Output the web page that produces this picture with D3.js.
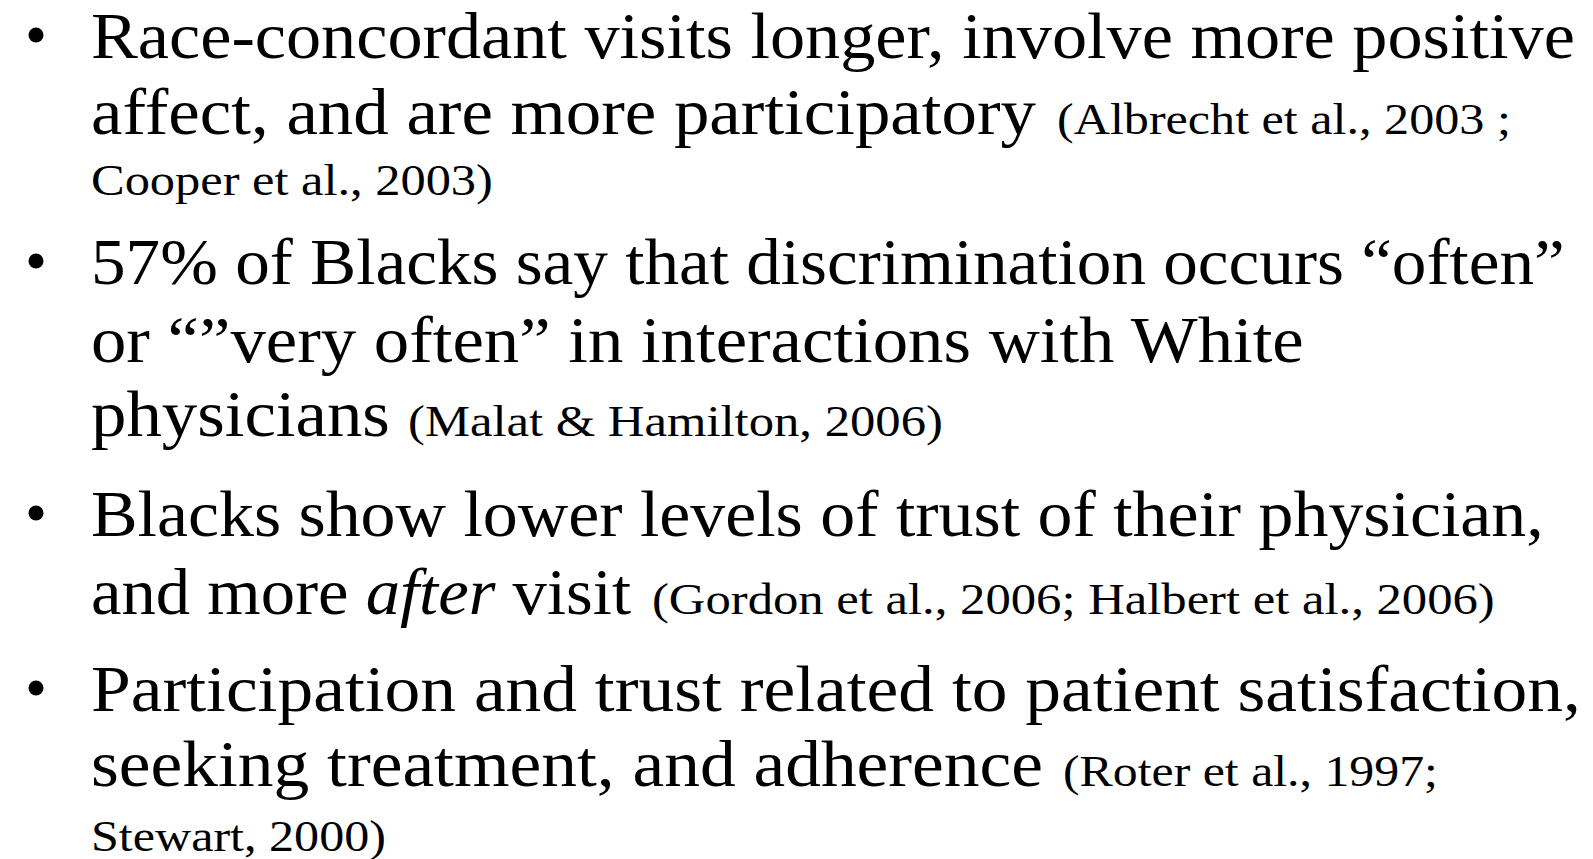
<!DOCTYPE html>
<html>
<head>
<meta charset="utf-8">
<script src="https://cdn.jsdelivr.net/npm/d3@7"></script>
<style>
  html, body { margin: 0; padding: 0; background: #ffffff; }
  svg { display: block; }
  text { font-family: "Liberation Serif", "Times New Roman", serif; fill: #000; white-space: pre; }
</style>
</head>
<body>
<svg id="chart" width="1593" height="859"></svg>
<script>
// ---- content ----
const bulletLines = [0, 3, 6, 8];
const mainTexts = [
  [{t: "Race-concordant visits longer, involve more positive"}],
  [{t: "affect, and are more participatory"}],
  [],
  [{t: "57% of Blacks say that discrimination occurs \u201coften\u201d"}],
  [{t: "or \u201c\u201dvery often\u201d in interactions with White"}],
  [{t: "physicians"}],
  [{t: "Blacks show lower levels of trust of their physician,"}],
  [{t: "and more "}, {t: "after", i: true}, {t: " visit"}],
  [{t: "Participation and trust related to patient satisfaction,"}],
  [{t: "seeking treatment, and adherence"}],
  []
];
const citeTexts = [
  "",
  "(Albrecht et al., 2003 ;",
  "Cooper et al., 2003)",
  "",
  "",
  "(Malat & Hamilton, 2006)",
  "",
  "(Gordon et al., 2006; Halbert et al., 2006)",
  "",
  "(Roter et al., 1997;",
  "Stewart, 2000)"
];

// ---- layout ----
const baselines = [58, 134, 195, 284, 362, 436, 536, 614, 711, 786, 851];
const mainSpan = [[91, 1575], [91, 1036], null, [91, 1565], [91, 1304], [91, 390], [91, 1544], [91, 631], [91, 1581], [91, 1043], null];
const citeSpan = [null, [1057, 1511], [91, 493], null, null, [408, 943], null, [652, 1495], null, [1063, 1438], [91, 386]];
const bulletX = 36;
const bulletR = 7.5;
const bulletDy = -23;
const mainSize = 66;
const citeSize = 45;

const svg = d3.select("#chart");
const yScale = d3.scaleOrdinal().domain(d3.range(baselines.length)).range(baselines);

function fitGroup(g, textSel, span, y) {
  const w = textSel.node().getComputedTextLength();
  const k = (span[1] - span[0]) / w;
  g.attr("transform", `translate(${span[0]},${y}) scale(${k},1)`);
}

// main (large) text
svg.selectAll("g.main")
  .data(mainTexts.map((segs, i) => ({segs, i})).filter(d => d.segs.length))
  .join("g")
  .attr("class", "main")
  .each(function(d) {
    const g = d3.select(this);
    const txt = g.append("text").attr("x", 0).attr("y", 0).attr("font-size", mainSize);
    txt.selectAll("tspan")
      .data(d.segs)
      .join("tspan")
      .attr("font-style", s => s.i ? "italic" : "normal")
      .text(s => s.t);
    fitGroup(g, txt, mainSpan[d.i], yScale(d.i));
  });

// citations (small text)
svg.selectAll("g.cite")
  .data(citeTexts.map((t, i) => ({t, i})).filter(d => d.t))
  .join("g")
  .attr("class", "cite")
  .each(function(d) {
    const g = d3.select(this);
    const txt = g.append("text").attr("x", 0).attr("y", 0).attr("font-size", citeSize).text(d.t);
    fitGroup(g, txt, citeSpan[d.i], yScale(d.i));
  });

svg.selectAll("circle.bullet")
  .data(bulletLines)
  .join("circle")
  .attr("class", "bullet")
  .attr("cx", bulletX)
  .attr("cy", d => yScale(d) + bulletDy)
  .attr("r", bulletR)
  .attr("fill", "#000");
</script>
</body>
</html>
